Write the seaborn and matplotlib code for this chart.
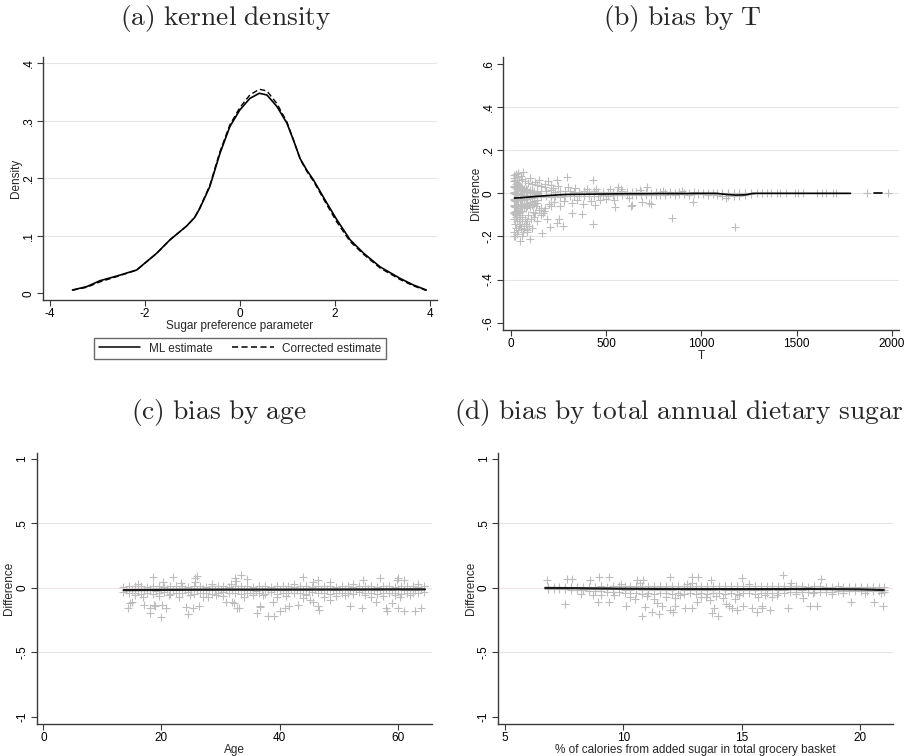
import matplotlib
matplotlib.use("Agg")
import matplotlib.pyplot as plt
import seaborn as sns

# ---------------- data ----------------
# (a) kernel density
kde_x = [-3.52, -3.22, -2.94, -2.59, -2.17, -1.75, -1.47, -1.12, -0.95, -0.84, -0.63,
         -0.42, -0.21, 0.0, 0.21, 0.41, 0.57, 0.78, 0.99, 1.13, 1.27, 1.41, 1.55,
         1.83, 2.04, 2.32, 2.60, 2.95, 3.37, 3.65, 3.92]
kde_ml = [0.0058, 0.0116, 0.022, 0.030, 0.0406, 0.0696, 0.093, 0.117, 0.132, 0.148, 0.186,
          0.243, 0.29, 0.319, 0.339, 0.348, 0.345, 0.325, 0.296, 0.266, 0.234, 0.214, 0.197,
          0.157, 0.128, 0.093, 0.070, 0.046, 0.026, 0.0145, 0.0058]
kde_corr = [0.0055, 0.0105, 0.020, 0.029, 0.0405, 0.0695, 0.093, 0.117, 0.132, 0.149, 0.188,
            0.246, 0.293, 0.323, 0.345, 0.355, 0.352, 0.33, 0.298, 0.266, 0.233, 0.212, 0.195,
            0.154, 0.124, 0.090, 0.068, 0.044, 0.024, 0.013, 0.005]

# (b) bias by T
b_core_T = [16, 20, 25, 30, 35, 41, 47, 54, 61, 69, 78, 88, 99, 111, 125, 140]
b_core_d1 = [0.055, 0.07, 0.06, 0.045, 0.05, 0.04, 0.035, 0.03, 0.025, 0.02, 0.02, 0.015, 0.015, 0.012, 0.01, 0.008]
b_core_d2 = [0.03, 0.035, 0.03, 0.025, 0.028, 0.02, 0.018, 0.015, 0.012, 0.01, 0.008, 0.005, 0.004, 0.003, 0.002, 0.0]
b_core_d3 = [0.0, 0.005, -0.005, 0.0, -0.004, -0.006, -0.005, -0.008, -0.006, -0.01, -0.008, -0.01, -0.01, -0.008, -0.006, -0.005]
b_core_d4 = [-0.03, -0.025, -0.035, -0.03, -0.028, -0.03, -0.032, -0.03, -0.028, -0.03, -0.025, -0.026, -0.022, -0.02, -0.018, -0.016]
b_core_d5 = [-0.06, -0.055, -0.065, -0.058, -0.06, -0.055, -0.06, -0.052, -0.05, -0.055, -0.048, -0.045, -0.04, -0.038, -0.035, -0.03]
b_core_d6 = [-0.09, -0.085, -0.095, -0.08, -0.09, -0.075, -0.085, -0.07, -0.08, -0.065, -0.07, -0.06, -0.062, -0.055, -0.05, -0.045]

b_low_T = [18, 22, 26, 30, 35, 38, 42, 45, 50, 55,
           58, 62, 66, 70, 75, 80, 85, 92, 98, 105,
           112, 120, 130, 140, 160, 175, 190, 180, 26, 48,
           17, 60, 20, 33, 44, 72, 88, 115, 150, 135]
b_low_d = [-0.12, -0.14, -0.16, -0.11, -0.13, -0.17, -0.15, -0.12, -0.14, -0.16,
           -0.11, -0.13, -0.18, -0.15, -0.12, -0.14, -0.17, -0.10, -0.15, -0.12,
           -0.16, -0.11, -0.09, -0.13, -0.10, -0.08, -0.12, -0.07, -0.10, -0.10,
           -0.20, -0.20, -0.18, -0.19, -0.09, -0.165, -0.13, -0.085, -0.075, -0.06]

b_up_T = [20, 28, 35, 52, 60, 75, 90, 110, 140, 160, 180, 220, 150, 100, 45]
b_up_d = [0.085, 0.09, 0.075, 0.08, 0.065, 0.055, 0.05, 0.045, 0.04, 0.035, 0.03, 0.025, 0.06, 0.07, 0.06]

b_mid_T = [200, 230, 260, 280, 320, 350, 380, 420, 440, 470,
           500, 540, 580, 620, 300, 340, 400, 450, 250, 210,
           180, 520, 680, 800, 900, 171, 547, 635, 726, 160]
b_mid_d = [-0.05, -0.04, -0.06, -0.035, -0.045, -0.03, -0.05, -0.035, -0.055, -0.03,
           -0.025, -0.03, 0.02, -0.02, 0.03, 0.025, 0.02, 0.022, 0.035, 0.04,
           0.045, 0.018, 0.015, 0.012, 0.01, -0.093, -0.062, -0.054, -0.047, -0.07]

b_out_T = [23, 49, 101, 84, 163, 206, 241, 276, 434, 845,
           1178, 320, 373, 212, 255, 633, 688, 737, 959, 294,
           430, 241, 198, 714, 565, 66, 40, 128, 31, 1129]
b_out_d = [-0.20, -0.22, -0.213, -0.178, -0.182, -0.158, -0.136, -0.152, -0.144, -0.113,
           -0.158, -0.09, -0.096, -0.057, -0.12, -0.057, -0.042, -0.051, -0.042, 0.077,
           0.062, 0.062, 0.059, 0.029, 0.029, 0.10, 0.093, 0.054, 0.08, -0.023]

b_band_T = [160, 185, 210, 235, 260, 285, 310, 335, 360, 385,
            410, 435, 460, 485, 510, 535, 560, 585, 610, 635,
            660, 685, 710, 735, 760, 785, 810, 835, 860, 885,
            910, 935, 960, 985, 1010, 1035, 1060, 1085, 1110, 1140,
            1170, 1200, 1230, 1260]
b_band_d1 = [0.012, 0.010, 0.014, 0.008, 0.010, 0.009, 0.012, 0.006, 0.008, 0.010,
             0.007, 0.011, 0.006, 0.008, 0.005, 0.007, 0.006, 0.009, 0.004, 0.006,
             0.005, 0.004, 0.006, 0.003, 0.005, 0.004, 0.003, 0.005, 0.002, 0.004,
             0.003, 0.002, 0.004, 0.002, 0.003, 0.002, 0.002, 0.003, 0.001, 0.002,
             0.000, 0.001, 0.000, 0.001]
b_band_d2 = [-0.016, -0.014, -0.018, -0.012, -0.015, -0.013, -0.014, -0.011, -0.013, -0.010,
             -0.012, -0.010, -0.011, -0.009, -0.010, -0.008, -0.009, -0.008, -0.009, -0.007,
             -0.008, -0.007, -0.008, -0.006, -0.007, -0.006, -0.007, -0.005, -0.006, -0.005,
             -0.005, -0.006, -0.004, -0.005, -0.004, -0.006, -0.005, -0.008, -0.010, -0.012,
             -0.012, -0.010, -0.008, -0.004]

b_tail_T = [1290, 1321, 1346, 1368, 1398, 1412, 1447, 1491, 1508, 1535, 1605, 1631, 1657, 1692, 1706, 1867, 1981]
b_tail_d = [0.001, 0.0, 0.001, 0.0, 0.0, 0.001, 0.0, 0.0, 0.001, 0.0, 0.0, 0.001, 0.0, 0.0, 0.0, 0.001, 0.001]

b_fit_T = [20, 60, 100, 150, 200, 250, 300, 400, 500, 600, 700, 800, 900, 1000,
           1080, 1130, 1180, 1230, 1272, 1300, 1400, 1500, 1600, 1700, 1783]
b_fit_d = [-0.022, -0.020, -0.017, -0.013, -0.010, -0.007, -0.005, -0.004, -0.003, -0.002,
           -0.002, -0.001, -0.001, 0.0, 0.0, -0.005, -0.008, -0.007, 0.0, 0.0,
           0.0, 0.0, 0.0, 0.0, 0.0]
b_fit2_T = [1904, 1946]
b_fit2_d = [0.0, 0.0]

# (c) bias by age
c_out_age = [14.6, 14.4, 15.0, 17.0, 18.1, 18.1, 18.7, 18.5, 18.9, 20.0,
             20.1, 20.7, 22.0, 20.3, 23.3, 24.1, 24.5, 25.4, 25.7, 26.1,
             26.4, 25.6, 27.0, 31.0, 32.2, 32.5, 32.8, 33.1, 32.7, 33.5,
             34.5, 32.0, 36.1, 36.7, 36.6, 38.0, 39.0, 38.9, 40.0, 40.9,
             41.6, 43.2, 43.9, 45.1, 45.7, 46.5, 46.7, 46.5, 45.6, 48.5,
             48.5, 51.9, 53.9, 54.1, 56.4, 57.0, 58.0, 58.1, 59.1, 59.8,
             60.1, 61.1, 60.1, 61.1, 62.9, 63.9, 60.4]
c_out_d = [-0.116, -0.155, -0.114, -0.135, -0.16, -0.194, -0.135, 0.08, -0.142, -0.225,
           -0.135, -0.155, 0.08, 0.041, 0.034, -0.153, -0.204, -0.155, 0.078, 0.09,
           -0.14, 0.047, -0.07, -0.109, -0.122, 0.072, -0.16, -0.16, 0.054, 0.10,
           0.065, -0.109, -0.2, -0.147, -0.14, -0.22, -0.22, -0.109, -0.181, -0.16,
           -0.14, -0.135, 0.08, -0.096, -0.109, -0.14, -0.173, 0.06, 0.047, 0.047,
           -0.096, -0.14, -0.155, 0.06, -0.114, 0.072, -0.16, -0.178, -0.122, 0.06,
           0.072, 0.06, -0.16, -0.181, -0.181, -0.155, -0.07]
c_mid_age = [15.5, 16.8, 19.5, 21.3, 23.0, 24.8, 27.8, 29.2, 30.5, 31.8,
             34.0, 35.5, 37.2, 39.5, 41.0, 42.5, 44.5, 47.5, 49.5, 51.0,
             52.5, 54.5, 55.5, 57.5, 59.5, 62.0, 63.5, 16.0, 28.5, 44.0]
c_mid_d = [-0.06, -0.07, -0.065, -0.055, -0.07, -0.06, -0.075, -0.06, -0.065, 0.03,
           -0.07, -0.055, -0.06, -0.075, -0.065, 0.025, -0.06, -0.07, -0.065, -0.055,
           0.03, -0.06, -0.07, -0.065, -0.055, -0.06, 0.03, 0.028, 0.032, -0.08]
c_band_age = [13.5, 14.5, 15.5, 16.5, 17.5, 18.5, 19.5, 20.5, 21.5, 22.5,
              23.5, 24.5, 25.5, 26.5, 27.5, 28.5, 29.5, 30.5, 31.5, 32.5,
              33.5, 34.5, 35.5, 36.5, 37.5, 38.5, 39.5, 40.5, 41.5, 42.5,
              43.5, 44.5, 45.5, 46.5, 47.5, 48.5, 49.5, 50.5, 51.5, 52.5,
              53.5, 54.5, 55.5, 56.5, 57.5, 58.5, 59.5, 60.5, 61.5, 62.5,
              63.5, 64.5]
c_band_hi = [0.008, 0.012, 0.010, 0.014, 0.009, 0.011, 0.013, 0.008, 0.012, 0.010,
             0.015, 0.009, 0.011, 0.013, 0.008, 0.010, 0.014, 0.012, 0.009, 0.011,
             0.013, 0.010, 0.008, 0.012, 0.011, 0.009, 0.014, 0.010, 0.012, 0.008,
             0.011, 0.013, 0.009, 0.012, 0.010, 0.014, 0.008, 0.011, 0.012, 0.009,
             0.013, 0.010, 0.012, 0.008, 0.011, 0.014, 0.009, 0.012, 0.010, 0.011,
             0.009, 0.010]
c_band_lo = [-0.035, -0.045, -0.04, -0.05, -0.038, -0.046, -0.042, -0.036, -0.048, -0.04,
             -0.044, -0.037, -0.05, -0.041, -0.039, -0.047, -0.043, -0.036, -0.045, -0.04,
             -0.048, -0.038, -0.044, -0.041, -0.05, -0.037, -0.046, -0.042, -0.039, -0.045,
             -0.04, -0.048, -0.036, -0.044, -0.041, -0.047, -0.038, -0.043, -0.04, -0.046,
             -0.037, -0.045, -0.042, -0.048, -0.039, -0.044, -0.041, -0.046, -0.038, -0.043,
             -0.04, -0.036]
c_band_age2 = [14, 15, 16, 17, 18, 19, 20, 21, 22, 23,
               24, 25, 26, 27, 28, 29, 30, 31, 32, 33,
               34, 35, 36, 37, 38, 39, 40, 41, 42, 43,
               44, 45, 46, 47, 48, 49, 50, 51, 52, 53,
               54, 55, 56, 57, 58, 59, 60, 61, 62, 63,
               64]
c_band_mid = [-0.015, -0.02, -0.012, -0.018, -0.014, -0.022, -0.016, -0.011, -0.019, -0.015,
              -0.013, -0.021, -0.017, -0.012, -0.018, -0.015, -0.02, -0.014, -0.016, -0.011,
              -0.019, -0.015, -0.022, -0.013, -0.017, -0.014, -0.02, -0.016, -0.012, -0.018,
              -0.015, -0.021, -0.013, -0.017, -0.014, -0.019, -0.016, -0.012, -0.02, -0.015,
              -0.018, -0.013, -0.016, -0.021, -0.014, -0.017, -0.012, -0.019, -0.015, -0.016,
              -0.013]
c_fit_age = [13.6, 20, 30, 40, 50, 60, 64.6]
c_fit_d = [-0.019, -0.017, -0.015, -0.015, -0.014, -0.013, -0.013]

# (d) bias by total annual dietary sugar
d_out_x = [6.76, 7.54, 7.63, 7.82, 8.59, 8.97, 8.92, 9.39, 9.39, 9.04,
           10.1, 10.56, 10.85, 10.8, 10.9, 11.2, 11.5, 11.41, 11.62, 11.97,
           11.97, 12.11, 12.18, 12.61, 12.92, 13.17, 12.89, 13.1, 13.7, 13.73,
           13.85, 14.01, 13.66, 14.32, 14.46, 14.58, 14.79, 15.0, 15.07, 15.42,
           15.63, 15.85, 15.85, 16.2, 16.76, 16.97, 17.1, 17.6, 17.89, 18.17,
           18.35, 19.62, 20.6, 20.99, 20.9]
d_out_d = [0.06, -0.127, 0.065, 0.065, 0.06, 0.085, -0.114, 0.08, -0.109, -0.057,
           -0.14, 0.06, 0.06, -0.22, -0.148, -0.187, -0.205, -0.122, -0.14, 0.08,
           -0.173, -0.19, -0.14, -0.16, 0.085, 0.08, -0.16, -0.109, 0.06, -0.194,
           -0.16, -0.22, -0.096, -0.13, -0.14, -0.16, -0.173, 0.075, -0.14, -0.16,
           -0.19, -0.16, -0.14, -0.173, 0.098, -0.16, 0.034, -0.083, -0.14, -0.14,
           0.065, -0.114, -0.114, -0.14, -0.044]
d_mid_x = [8.2, 8.7, 9.6, 10.3, 10.7, 11.0, 11.8, 12.4, 12.7, 13.3,
           13.9, 14.2, 14.9, 15.3, 15.7, 16.0, 16.5, 17.3, 18.0, 18.8,
           19.3, 20.2, 9.9, 11.3, 12.2, 13.5, 14.7, 16.3, 10.5, 12.9]
d_mid_d = [-0.05, -0.06, -0.055, -0.07, 0.035, -0.065, -0.075, -0.06, 0.03, -0.07,
           -0.065, -0.08, -0.06, 0.03, -0.07, -0.055, -0.06, -0.05, -0.045, -0.05,
           -0.04, -0.045, 0.03, -0.085, -0.08, -0.075, -0.085, -0.07, -0.09, 0.035]
d_band_x = [6.8, 7.05, 7.3, 7.55, 7.8, 8.05, 8.3, 8.55, 8.8, 9.05,
            9.3, 9.55, 9.8, 10.05, 10.3, 10.55, 10.8, 11.05, 11.3, 11.55,
            11.8, 12.05, 12.3, 12.55, 12.8, 13.05, 13.3, 13.55, 13.8, 14.05,
            14.3, 14.55, 14.8, 15.05, 15.3, 15.55, 15.8, 16.05, 16.3, 16.55,
            16.8, 17.05, 17.3, 17.55, 17.8, 18.05, 18.3, 18.55, 18.8, 19.05,
            19.3, 19.55, 19.8, 20.05, 20.3, 20.55, 20.8, 21.0]
d_band_hi = [0.004, 0.006, 0.005, 0.007, 0.006, 0.008, 0.007, 0.009,
             0.008, 0.01, 0.009, 0.011, 0.012,
             0.013, 0.011, 0.014, 0.012, 0.015, 0.013, 0.011, 0.014, 0.012, 0.013,
             0.015, 0.012, 0.014, 0.011, 0.013, 0.015, 0.012, 0.014, 0.013, 0.011,
             0.014, 0.012, 0.013, 0.015, 0.012, 0.011, 0.013, 0.012,
             0.011, 0.01, 0.012, 0.009, 0.01, 0.011, 0.008, 0.009, 0.01, 0.008,
             0.007, 0.009, 0.006, 0.007, 0.005, 0.004, 0.003]
d_band_mid = [-0.004, -0.002, -0.005, -0.003, -0.006, -0.004, -0.007, -0.008,
              -0.01, -0.012, -0.011, -0.013, -0.012,
              -0.015, -0.018, -0.014, -0.02, -0.016, -0.019, -0.015, -0.017, -0.021, -0.014,
              -0.018, -0.016, -0.02, -0.015, -0.017, -0.019, -0.014, -0.018, -0.016, -0.02,
              -0.015, -0.017, -0.019, -0.016, -0.018, -0.014, -0.017, -0.015,
              -0.014, -0.013, -0.015, -0.012, -0.014, -0.013, -0.011, -0.012, -0.013, -0.011,
              -0.01, -0.012, -0.011, -0.013, -0.012, -0.014, -0.016]
d_band_lo = [-0.012, -0.01, -0.014, -0.012, -0.016, -0.015, -0.02, -0.022,
             -0.025, -0.028, -0.03, -0.032, -0.035,
             -0.04, -0.045, -0.038, -0.048, -0.042, -0.05, -0.044, -0.039, -0.047, -0.043,
             -0.05, -0.041, -0.046, -0.04, -0.048, -0.043, -0.045, -0.05, -0.042, -0.047,
             -0.04, -0.044, -0.046, -0.041, -0.045, -0.04, -0.043, -0.038,
             -0.036, -0.035, -0.033, -0.034, -0.032, -0.03, -0.031, -0.03, -0.028, -0.029,
             -0.027, -0.028, -0.026, -0.027, -0.025, -0.028, -0.03]
d_fit_x = [6.7, 8, 10, 12, 14, 16, 18, 20, 21]
d_fit_d = [-0.002, -0.004, -0.008, -0.01, -0.011, -0.011, -0.01, -0.013, -0.018]

# tick labels
a_xticks = [-4, -2, 0, 2, 4]
a_yticks = [0, 0.1, 0.2, 0.3, 0.4]
a_yticklabels = ["0", ".1", ".2", ".3", ".4"]
b_xticks = [0, 500, 1000, 1500, 2000]
b_yticks = [-0.6, -0.4, -0.2, 0, 0.2, 0.4, 0.6]
b_yticklabels = ["-.6", "-.4", "-.2", "0", ".2", ".4", ".6"]
cd_yticks = [-1, -0.5, 0, 0.5, 1]
cd_yticklabels = ["-1", "-.5", "0", ".5", "1"]
c_xticks = [0, 20, 40, 60]
d_xticks = [5, 10, 15, 20]

# ---------------- style ----------------
sns.set_style("white")
plt.rcParams["font.family"] = ["Liberation Sans", "DejaVu Sans"]
plt.rcParams["mathtext.fontset"] = "cm"

FS = 8.5
AXC = "#3a3a3a"
GRID = "#e6e6e6"
PT = "#bdbdbd"

fig = plt.figure(figsize=(9.05, 7.56), dpi=100)
W, H = 905.0, 756.0


def add_ax(l, t, r, b):
    return fig.add_axes([l / W, 1 - b / H, (r - l) / W, (b - t) / H])


axA = add_ax(43.3, 56.7, 436.7, 300)
axB = add_ax(503.3, 56.7, 899.3, 330)
axC = add_ax(36.7, 453.3, 431.7, 724)
axD = add_ax(498.3, 453.3, 892.7, 724)


def style(ax, xlim, ylim, xt, yt, ytl, grid_vals, xlabel, ylabel, pink_zero=False):
    ax.set_xlim(xlim)
    ax.set_ylim(ylim)
    ax.set_xticks(xt)
    ax.set_xticklabels([str(v) for v in xt], fontsize=FS)
    ax.set_yticks(yt)
    ax.set_yticklabels(ytl, fontsize=FS, rotation=90, va="center")
    for s in ["top", "right"]:
        ax.spines[s].set_visible(False)
    for s in ["left", "bottom"]:
        ax.spines[s].set_color(AXC)
        ax.spines[s].set_linewidth(1.0)
    ax.tick_params(direction="out", length=4, width=0.8, color=AXC, pad=2,
                   labelcolor="black", left=True, bottom=True)
    ax.grid(False)
    for g in grid_vals:
        c = "#f4e4e4" if (pink_zero and g == 0) else GRID
        ax.axhline(g, color=c, lw=0.8, zorder=0)
    ax.set_xlabel(xlabel, fontsize=FS, labelpad=0)
    ax.set_ylabel(ylabel, fontsize=FS, labelpad=1)


def pts(ax, x, y):
    sns.scatterplot(x=x, y=y, ax=ax, marker="+", color=PT, s=32, linewidth=0.8,
                    legend=False, zorder=2)


# (a)
sns.lineplot(x=kde_x, y=kde_ml, ax=axA, color="black", lw=1.2, label="ML estimate", zorder=3)
sns.lineplot(x=kde_x, y=kde_corr, ax=axA, color="black", lw=1.0,
             label="Corrected estimate", zorder=3)
style(axA, (-4.133, 4.14), (-0.0116, 0.4116), a_xticks, a_yticks, a_yticklabels,
      [0.1, 0.2, 0.3, 0.4], "Sugar preference parameter", "Density")
axA.get_lines()[1].set_linestyle((0, (4, 2.2)))
leg = axA.legend(loc="center", bbox_to_anchor=(240 / W, 1 - 348.5 / H),
                 bbox_transform=fig.transFigure, ncol=2, frameon=True, fancybox=False,
                 edgecolor="#444444", fontsize=FS, handlelength=3.5,
                 columnspacing=1.7, borderpad=0.4, handletextpad=0.7, borderaxespad=0)
leg.get_frame().set_linewidth(1.0)
for h in leg.get_lines():
    h.set_linewidth(1.1)
leg.get_lines()[1].set_linestyle((0, (4, 2.2)))

# (b)
for d in [b_core_d1, b_core_d2, b_core_d3, b_core_d4, b_core_d5, b_core_d6]:
    pts(axB, b_core_T, d)
pts(axB, b_low_T, b_low_d)
pts(axB, b_up_T, b_up_d)
pts(axB, b_mid_T, b_mid_d)
pts(axB, b_out_T, b_out_d)
pts(axB, b_band_T, b_band_d1)
pts(axB, b_band_T, b_band_d2)
pts(axB, b_tail_T, b_tail_d)
sns.lineplot(x=b_fit_T, y=b_fit_d, ax=axB, color="black", lw=1.2, zorder=4)
sns.lineplot(x=b_fit2_T, y=b_fit2_d, ax=axB, color="black", lw=1.2, zorder=4)
style(axB, (-38.5, 2039), (-0.634, 0.634), b_xticks, b_yticks, b_yticklabels,
      [-0.4, -0.2, 0, 0.2, 0.4], "T", "Difference")

# (c)
pts(axC, c_band_age, c_band_hi)
pts(axC, c_band_age, c_band_lo)
pts(axC, c_band_age2, c_band_mid)
pts(axC, c_mid_age, c_mid_d)
pts(axC, c_out_age, c_out_d)
sns.lineplot(x=c_fit_age, y=c_fit_d, ax=axC, color="#1a1a1a", lw=1.6, zorder=4)
style(axC, (-1.12, 65.75), (-1.058, 1.043), c_xticks, cd_yticks, cd_yticklabels,
      [-0.5, 0, 0.5], "Age", "Difference", pink_zero=True)

# (d)
pts(axD, d_band_x, d_band_hi)
pts(axD, d_band_x, d_band_mid)
pts(axD, d_band_x, d_band_lo)
pts(axD, d_mid_x, d_mid_d)
pts(axD, d_out_x, d_out_d)
sns.lineplot(x=d_fit_x, y=d_fit_d, ax=axD, color="#1a1a1a", lw=1.6, zorder=4)
style(axD, (4.717, 21.38), (-1.058, 1.043), d_xticks, cd_yticks, cd_yticklabels,
      [-0.5, 0, 0.5], "% of calories from added sugar in total grocery basket",
      "Difference", pink_zero=True)

# panel titles
TFS = 19.8
fig.text(226 / W, 1 - 18 / H, r"$\mathrm{(a)\ kernel\ density}$", ha="center", va="center", fontsize=TFS)
fig.text(682 / W, 1 - 18 / H, r"$\mathrm{(b)\ bias\ by\ T}$", ha="center", va="center", fontsize=TFS)
fig.text(219 / W, 1 - 412 / H, r"$\mathrm{(c)\ bias\ by\ age}$", ha="center", va="center", fontsize=TFS)
fig.text(679 / W, 1 - 412 / H, r"$\mathrm{(d)\ bias\ by\ total\ annual\ dietary\ sugar}$",
         ha="center", va="center", fontsize=TFS)

fig.savefig("out.png", dpi=100)
